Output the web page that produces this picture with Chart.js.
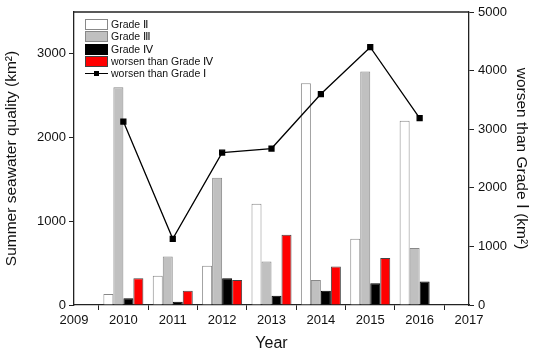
<!DOCTYPE html>
<html>
<head>
<meta charset="utf-8">
<script src="https://cdn.jsdelivr.net/npm/chart.js@4"></script>
<style>
    body { margin: 0; background: #fff; }
    #wrap { position: relative; width: 535px; height: 355px; }
    #legend { position: absolute; left: 85px; top: 18px; font: 10.5px Arial, "Liberation Sans", sans-serif; color: #111; }
    .item { position: relative; height: 12.3px; line-height: 12.3px; padding-left: 26px; white-space: nowrap; }
    .box { position: absolute; left: 0; top: 1px; width: 21px; height: 9px; box-sizing: content-box; }
    .ln { position: absolute; left: 0; top: 6px; width: 23px; height: 1.3px; background: #000; }
    .sq { position: absolute; left: 9px; top: 4px; width: 5px; height: 5px; background: #000; }
</style>
</head>
<body>
<div id="wrap">
    <canvas id="c" width="535" height="355"></canvas>
    <div id="legend"></div>
</div>
<script>
// years on the x axis (2009 and 2017 are empty end slots)
const years = ['2009', '2010', '2011', '2012', '2013', '2014', '2015', '2016', '2017'];

// area per grade, km2 (left axis)
const gradeII  = [null, 130, 350, 470, 1210, 2650, 790, 2200, null];
const gradeIII = [null, 2600, 580, 1520, 520, 300, 2790, 680, null];
const gradeIV  = [null, 80, 40, 320, 110, 170, 260, 280, null];
const worseIV  = [null, 320, 170, 300, 840, 460, 560, 8, null];

// worse than grade I, km2 (right axis)
const worseI = [null, 3130, 1130, 2600, 2670, 3600, 4400, 3190, null];

const leftTicks = [0, 1000, 2000, 3000];
const rightTicks = [0, 1000, 2000, 3000, 4000, 5000];

Chart.defaults.font.family = 'Arial, "Liberation Sans", sans-serif';
Chart.defaults.color = '#111';

const axisColor = '#222';

// close the frame on top
const frameTop = {
    id: 'frameTop',
    afterDraw(chart) {
        const { ctx, chartArea: a } = chart;
        ctx.save();
        ctx.strokeStyle = axisColor;
        ctx.lineWidth = 1.3;
        ctx.beginPath();
        ctx.moveTo(a.left, a.top);
        ctx.lineTo(a.right, a.top);
        ctx.stroke();
        ctx.restore();
    }
};

const bars = [
    { label: 'Grade Ⅱ', data: gradeII, fill: '#ffffff', edge: '#888888' },
    { label: 'Grade Ⅲ', data: gradeIII, fill: '#c0c0c0', edge: '#888888' },
    { label: 'Grade Ⅳ', data: gradeIV, fill: '#000000', edge: '#000000' },
    { label: 'worsen than Grade Ⅳ', data: worseIV, fill: '#ff0000', edge: '#444444' }
];

const datasets = [{
    type: 'line',
    label: 'worsen than Grade Ⅰ',
    data: worseI,
    yAxisID: 'y1',
    borderColor: '#000',
    backgroundColor: '#000',
    borderWidth: 1.3,
    pointStyle: 'rect',
    pointRadius: 3.5,
    order: 0
}];

bars.forEach(b => {
    datasets.push({
        label: b.label,
        data: b.data,
        yAxisID: 'y',
        backgroundColor: b.fill,
        borderColor: b.edge,
        borderWidth: 1,
        categoryPercentage: 0.81,
        barPercentage: 1.0,
        order: 1
    });
});

const plain = v => String(v);

new Chart(document.getElementById('c'), {
    type: 'bar',
    data: { labels: years, datasets: datasets },
    options: {
        responsive: false,
        animation: false,
        layout: { padding: { top: 12 } },
        plugins: {
            legend: { display: false },
            tooltip: { enabled: false }
        },
        scales: {
            x: {
                offset: false,
                grid: { drawOnChartArea: false, tickLength: 5, color: axisColor },
                border: { color: axisColor, width: 1.3 },
                ticks: { font: { size: 13 }, maxRotation: 0, autoSkip: false, padding: 3 },
                title: { display: true, text: 'Year', font: { size: 16 }, padding: { top: 0, bottom: 2 } },
                afterFit(s) { s.height = 50; }
            },
            y: {
                position: 'left',
                min: 0,
                max: 3500,
                grid: { drawOnChartArea: false, tickLength: 5, color: axisColor },
                border: { color: axisColor, width: 1.3 },
                ticks: { font: { size: 13 }, padding: 3, callback: plain },
                afterBuildTicks(s) { s.ticks = leftTicks.map(v => ({ value: v })); },
                title: { display: true, text: 'Summer seawater quality (km²)', font: { size: 15.5 }, padding: { top: 2 } },
                afterFit(s) { s.width = 74; }
            },
            y1: {
                position: 'right',
                min: 0,
                max: 5000,
                grid: { drawOnChartArea: false, tickLength: 5, color: axisColor },
                border: { color: axisColor, width: 1.3 },
                ticks: { font: { size: 13 }, padding: 4, callback: plain },
                afterBuildTicks(s) { s.ticks = rightTicks.map(v => ({ value: v })); },
                title: { display: true, text: 'worsen than Grade Ⅰ (km²)', font: { size: 15.5 }, padding: { top: 4 } },
                afterFit(s) { s.width = 66; }
            }
        }
    },
    plugins: [frameTop]
});

// legend drawn inside the plot, top left
const legend = document.getElementById('legend');
bars.forEach(b => {
    const row = document.createElement('div');
    row.className = 'item';
    row.innerHTML = '<span class="box" style="background:' + b.fill + ';border:1px solid ' + b.edge + '"></span>' + b.label;
    legend.appendChild(row);
});
const lineRow = document.createElement('div');
lineRow.className = 'item';
lineRow.innerHTML = '<span class="ln"></span><span class="sq"></span>' + datasets[0].label;
legend.appendChild(lineRow);
</script>
</body>
</html>
